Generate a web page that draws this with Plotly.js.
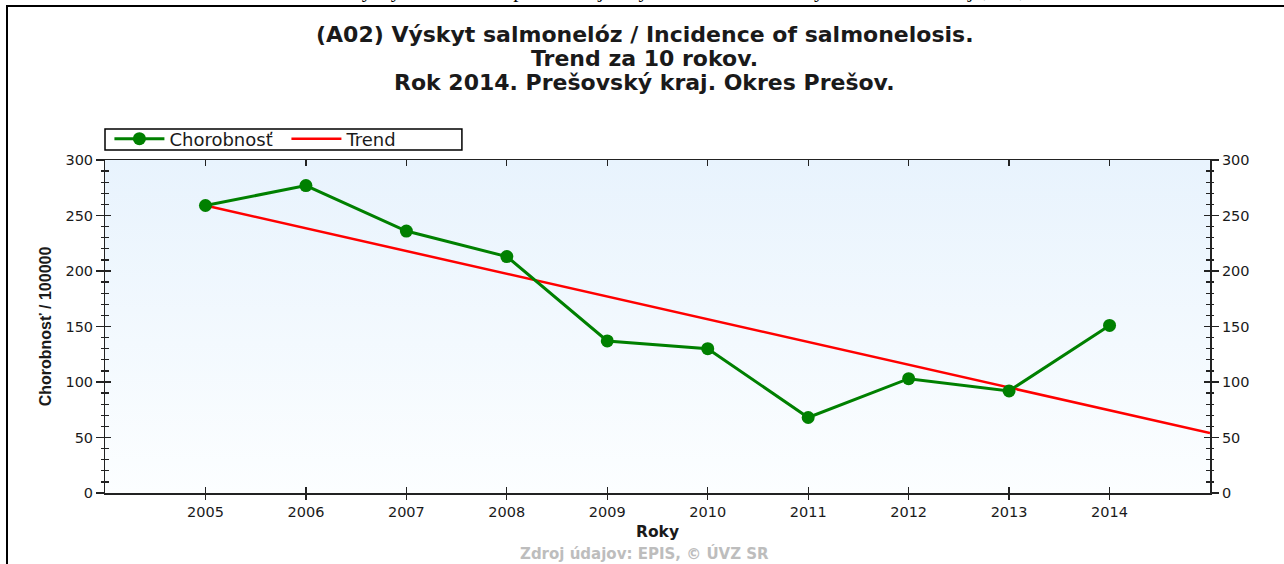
<!DOCTYPE html>
<html>
<head>
<meta charset="utf-8">
<script src="https://cdn.plot.ly/plotly-3.0.1.min.js"></script>
<style>
  html, body { margin:0; padding:0; background:#fff; width:1284px; height:564px; overflow:hidden; }
  #frame { position:absolute; left:6px; top:5px; width:1290px; height:600px; border-left:2px solid #000; border-top:2px solid #000; }
  #cut { position:absolute; left:0; top:-20px; width:1284px; height:25px; overflow:hidden; font-family:"Liberation Serif", serif; font-size:21px; line-height:21px; white-space:nowrap; color:#000; }
  #cut span { position:absolute; top:0; }
  #chart { position:absolute; left:0; top:0; width:1284px; height:564px; }
</style>
</head>
<body>
<div id="cut"><span style="left:250px">Tabuľka 1: Výskyt salmonelóz podľa údajov systému EPIS – okresy Prešovského kraja, SR, 2014</span></div>
<div id="frame"></div>
<div id="chart"></div>
<script>
// ---- data ----
const years = [2005, 2006, 2007, 2008, 2009, 2010, 2011, 2012, 2013, 2014];
const incidence = [259, 277, 236, 213, 137, 130, 68, 103, 92, 151];
const trendYears = [2005, 2015];
const trendValues = [259, 54];
const yearLabels = ['2005','2006','2007','2008','2009','2010','2011','2012','2013','2014'];

const titleLines = [
  '(A02) Výskyt salmonelóz / Incidence of salmonelosis.',
  'Trend za 10 rokov.',
  'Rok 2014. Prešovský kraj. Okres Prešov.'
];
const sourceText = 'Zdroj údajov: EPIS, © ÚVZ SR';

const FONT = 'DejaVu Sans, Verdana, sans-serif';
const FONT_A = 'Liberation Sans, Arial, sans-serif';
const AX = '#222';
const TXT = '#1a1a1a';

const bgSvg = 'data:image/svg+xml;utf8,' + encodeURIComponent(
  '<svg xmlns="http://www.w3.org/2000/svg" width="100" height="100" preserveAspectRatio="none">' +
  '<defs><linearGradient id="g" x1="0" y1="0" x2="0" y2="1">' +
  '<stop offset="0" stop-color="#e8f3fd"/><stop offset="1" stop-color="#fcfeff"/>' +
  '</linearGradient></defs><rect width="100" height="100" fill="url(#g)"/></svg>');

const traces = [
  {
    x: years, y: incidence, name: 'Chorobnosť', type: 'scatter', mode: 'lines+markers',
    line: {color: '#008000', width: 3}, marker: {color: '#008000', size: 13},
    xaxis: 'x2', yaxis: 'y2', hoverinfo: 'x+y'
  },
  {
    x: trendYears, y: trendValues, name: 'Trend', type: 'scatter', mode: 'lines',
    line: {color: '#ff0000', width: 2.5}, xaxis: 'x', yaxis: 'y', hoverinfo: 'skip'
  },
  {
    x: trendYears, y: trendValues, name: 'Trend', type: 'scatter', mode: 'lines', showlegend: false,
    line: {color: 'rgba(0,0,0,0)', width: 0}, xaxis: 'x2', yaxis: 'y3', hoverinfo: 'skip'
  }
];

const commonX = {range: [2004, 2015], tickvals: years, showgrid: false, zeroline: false, fixedrange: true};
const commonY = {range: [0, 300], dtick: 50, tick0: 0, showgrid: false, zeroline: false, fixedrange: true};

// title lines as annotations (paper y for plot area 160..493 px)
const titleY = [1.378, 1.306, 1.234];
const annotations = titleLines.map((t, i) => ({
  text: t, xref: 'paper', yref: 'paper', x: 0.4885, y: titleY[i],
  xanchor: 'center', yanchor: 'middle', showarrow: false,
  font: {family: FONT, size: 22, color: TXT, weight: 'bold'}
}));
annotations.push({
  text: sourceText, xref: 'paper', yref: 'paper', x: 0.4885, y: -0.181,
  xanchor: 'center', yanchor: 'middle', showarrow: false,
  font: {family: FONT, size: 15, color: '#bdbdbd', weight: 'bold'}
});

const layout = {
  width: 1284, height: 564,
  margin: {l: 105, r: 74, t: 160, b: 71, pad: 0},
  paper_bgcolor: 'rgba(0,0,0,0)',
  plot_bgcolor: 'rgba(0,0,0,0)',
  font: {family: FONT, size: 14, color: TXT},
  showlegend: true,
  legend: {
    orientation: 'h', x: 0.004, y: 1.063, xanchor: 'left', yanchor: 'middle',
    bgcolor: 'rgba(0,0,0,0)', borderwidth: 0,
    font: {family: FONT, size: 18, color: TXT},
    entrywidth: 112, entrywidthmode: 'pixels', itemwidth: 50,
    tracegroupgap: 0
  },
  xaxis: Object.assign({}, commonX, {
    anchor: 'y', side: 'bottom', showline: true, linecolor: AX, linewidth: 1.5, mirror: 'ticks',
    ticks: 'inside', ticklen: 6, tickwidth: 1.3, tickcolor: AX, showticklabels: false
  }),
  xaxis2: Object.assign({}, commonX, {
    overlaying: 'x', anchor: 'y', side: 'bottom', showline: false,
    ticks: 'outside', ticklen: 6, tickwidth: 1.3, tickcolor: AX,
    ticktext: yearLabels, tickfont: {family: FONT, size: 14.5, color: TXT},
    title: {text: 'Roky', font: {family: FONT, size: 15.5, color: TXT, weight: 'bold'}, standoff: 6}
  }),
  yaxis: Object.assign({}, commonY, {
    anchor: 'x', side: 'left', showline: true, linecolor: AX, linewidth: 1.5, mirror: 'ticks',
    ticks: 'inside', ticklen: 6, tickwidth: 1.3, tickcolor: AX, showticklabels: false,
    minor: {dtick: 10, ticks: 'inside', ticklen: 4, tickwidth: 1.3, tickcolor: AX}
  }),
  yaxis2: Object.assign({}, commonY, {
    overlaying: 'y', anchor: 'x', side: 'left', showline: false,
    ticks: 'outside', ticklen: 8, tickwidth: 1.3, tickcolor: AX,
    minor: {dtick: 10, ticks: 'outside', ticklen: 3, tickwidth: 1.3, tickcolor: AX},
    tickfont: {family: FONT, size: 14.5, color: TXT},
    title: {text: 'Chorobnosť / 100000', font: {family: FONT_A, size: 16, color: TXT, weight: 'bold'}, standoff: 9}
  }),
  yaxis3: Object.assign({}, commonY, {
    overlaying: 'y', anchor: 'x', side: 'right', showline: false,
    ticks: 'outside', ticklen: 8, tickwidth: 1.3, tickcolor: AX,
    minor: {dtick: 10, ticks: 'outside', ticklen: 3, tickwidth: 1.3, tickcolor: AX},
    tickfont: {family: FONT, size: 14.5, color: TXT}
  }),
  images: [{
    source: bgSvg, xref: 'paper', yref: 'paper', x: 0, y: 1, sizex: 1, sizey: 1,
    sizing: 'stretch', xanchor: 'left', yanchor: 'top', layer: 'below'
  }],
  shapes: [{
    type: 'rect', xref: 'paper', yref: 'paper', x0: 0.0, x1: 0.323, y0: 1.030, y1: 1.093,
    line: {color: '#000', width: 1.5}, fillcolor: '#fff', layer: 'below'
  }],
  annotations: annotations
};

Plotly.newPlot('chart', traces, layout, {displayModeBar: false, staticPlot: true});
</script>
</body>
</html>
